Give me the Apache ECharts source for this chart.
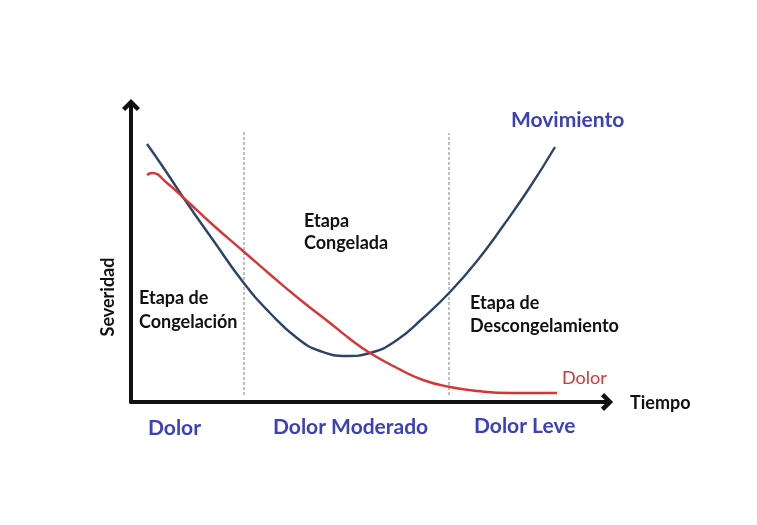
<!DOCTYPE html>
<html><head><meta charset="utf-8">
<script src="https://cdn.jsdelivr.net/npm/echarts@6/dist/echarts.min.js"></script>
<style>html,body{margin:0;padding:0;background:#fff}#c{width:757px;height:525px}</style>
</head><body><div id="c"></div>
<script>
// time / severity values (arbitrary units)
const movimientoX = [16, 32, 56, 82, 112, 139, 166, 189, 216, 239, 266, 292, 319, 346, 372, 399, 424];
const movimientoY = [258, 235, 199, 162, 120, 89, 64, 51, 46, 49, 62, 84, 110, 141, 176, 215, 255];
const dolorX = [16, 21, 36, 56, 82, 112, 142, 172, 199, 219, 239, 266, 292, 319, 346, 379, 426];
const dolorY = [227, 229, 219, 201, 177, 151, 125, 100, 79, 63, 49, 34, 22, 15, 11, 9, 9];
const stageBoundaries = [113, 318];
const stageLineTop = [272, 269];
const stageNames = [['Etapa de', 'Congelación'], ['Etapa', 'Congelada'], ['Etapa de', 'Descongelamiento']];
const painLevels = ['Dolor', 'Dolor Moderado', 'Dolor Leve'];

const zip = (xs, ys) => xs.map((x, i) => [x, ys[i]]);
const chart = echarts.init(document.getElementById('c'));
const chevron = 'path://M0,10 L10,0 L20,10 L16.5,13.5 L10,7 L3.5,13.5 Z';
const font = 'Lato, "Noto Sans", sans-serif';
const blueTxt = '#3b41bd';
const black = '#111';

const stageLines = stageBoundaries.map((x, i) => ({
  type: 'line', data: [[x, 7], [x, stageLineTop[i]]], symbol: 'none', silent: true,
  lineStyle: { color: '#808080', width: 1, type: [3, 2] }, z: 1
}));

const txt = (text, x, y, fontSpec, fill, extra) => ({
  type: 'text', x, y, silent: true,
  style: Object.assign({ text, font: fontSpec, fill, textVerticalAlign: 'middle', lineHeight: 24 }, extra || {})
});

chart.setOption({
  backgroundColor: '#fff',
  animation: false,
  grid: { left: 131, right: 150, top: 105, bottom: 123 },
  xAxis: {
    type: 'value', min: 0, max: 476,
    axisLine: { onZero: false, symbol: ['none', chevron], symbolSize: [18, 13], lineStyle: { color: black, width: 4 } },
    axisTick: { show: false }, axisLabel: { show: false }, splitLine: { show: false }
  },
  yAxis: {
    type: 'value', min: 0, max: 297,
    axisLine: { onZero: false, symbol: ['none', chevron], symbolSize: [18, 13], lineStyle: { color: black, width: 4 } },
    axisTick: { show: false }, axisLabel: { show: false }, splitLine: { show: false }
  },
  series: [
    ...stageLines,
    { name: 'Movimiento', type: 'line', data: zip(movimientoX, movimientoY), smooth: 0.5, symbol: 'none',
      lineStyle: { color: '#2d4467', width: 2.4 }, z: 3 },
    { name: 'Dolor', type: 'line', data: zip(dolorX, dolorY), smooth: 0.5, symbol: 'none',
      lineStyle: { color: '#d83434', width: 2.4 }, z: 4 }
  ],
  graphic: [
    txt('Severidad', 108, 297, 'bold 18px ' + font, black, { textAlign: 'center' }),
    txt('Tiempo', 630, 403, 'bold 18px ' + font, black),
    txt('Movimiento', 511, 120, 'bold 21px ' + font, blueTxt),
    txt('Dolor', 562, 378, 'normal 18px ' + font, '#d83434'),
    txt(painLevels[0], 148, 428, 'bold 21px ' + font, blueTxt),
    txt(painLevels[1], 273, 427, 'bold 21px ' + font, blueTxt),
    txt(painLevels[2], 474, 426, 'bold 21px ' + font, blueTxt),
    txt(stageNames[0].join('\n'), 139, 310, 'bold 18px ' + font, black),
    txt(stageNames[1].join('\n'), 304, 232, 'bold 18px ' + font, black, { lineHeight: 22 }),
    txt(stageNames[2].join('\n'), 470, 314.5, 'bold 18px ' + font, black, { lineHeight: 23 })
  ].map((g, i) => i === 0 ? Object.assign(g, { rotation: Math.PI / 2 }) : g)
});
</script></body></html>
